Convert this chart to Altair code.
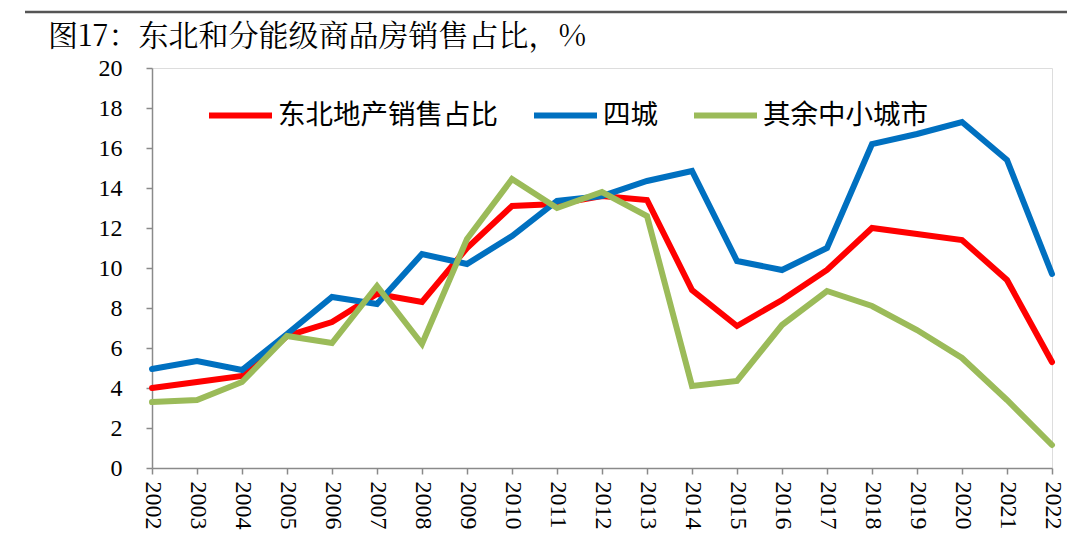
import altair as alt
import pandas as pd

years = [str(y) for y in range(2002, 2023)]
series_names = ["东北地产销售占比", "四城", "其余中小城市"]
colors = ["#FF0000", "#0070C0", "#9BBB59"]

northeast = [4.0, 4.3, 4.6, 6.6, 7.3, 8.7, 8.3, 11.0, 13.1, 13.2, 13.6, 13.4,
             8.9, 7.1, 8.4, 9.9, 12.0, 11.7, 11.4, 9.4, 5.3]
four_cities = [4.95, 5.35, 4.9, 6.7, 8.55, 8.2, 10.7, 10.2, 11.6, 13.35, 13.6, 14.35,
               14.85, 10.35, 9.9, 11.0, 16.2, 16.7, 17.3, 15.4, 9.7]
other_cities = [3.3, 3.4, 4.3, 6.6, 6.25, 9.1, 6.2, 11.45, 14.45, 13.0, 13.8, 12.6,
                4.1, 4.35, 7.15, 8.85, 8.1, 6.9, 5.5, 3.4, 1.15]
y_ticks = list(range(0, 21, 2))
title_text = ["图17：东北和分能级商品房销售占比，%"]

rows = []
for name, vals in zip(series_names, [northeast, four_cities, other_cities]):
    for yr, v in zip(years, vals):
        rows.append({"year": yr, "value": v, "series": name})
df = pd.DataFrame(rows)

serif = "Liberation Serif, 'Times New Roman', serif"
sans_cjk = "'Noto Sans CJK SC', sans-serif"
title_font = "'Noto Serif CJK SC', 'Liberation Serif', 'Noto Sans CJK SC', serif"

base = alt.Chart(df).encode(
    x=alt.X("year:O", sort=years,
            scale=alt.Scale(type="point", padding=0),
            axis=alt.Axis(title=None, labelAngle=90, labelFont=serif, labelFontSize=24,
                          labelColor="black", labelPadding=7, tickSize=6,
                          domainColor="#8a8a8a", tickColor="#8a8a8a",
                          domainWidth=1.5, tickWidth=1.5)),
    y=alt.Y("value:Q", scale=alt.Scale(domain=[0, 20], nice=False),
            axis=alt.Axis(title=None, values=y_ticks, grid=False, labelFont=serif,
                          labelFontSize=24, labelColor="black", labelPadding=24,
                          tickSize=6, domainColor="#8a8a8a", tickColor="#8a8a8a",
                          domainWidth=1.5, tickWidth=1.5)),
    color=alt.Color("series:N",
                    scale=alt.Scale(domain=series_names, range=colors),
                    legend=alt.Legend(title=None, orient="none", direction="horizontal",
                                      legendX=54, legendY=13, symbolType="stroke",
                                      symbolSize=3969, symbolStrokeWidth=6,
                                      labelFont=sans_cjk, labelFontSize=27.5,
                                      labelColor="black", labelOffset=3, labelLimit=400,
                                      columnPadding=24, padding=0)),
)

lines = [
    base.mark_line(strokeWidth=6, strokeCap="round").transform_filter(alt.datum.series == n)
    for n in series_names
]

deco = alt.Chart(pd.DataFrame({"k": [0]})).mark_rule(color="#555555", strokeWidth=2.5).encode(
    x=alt.value(-127), x2=alt.value(915), y=alt.value(-56)
)

title = alt.Chart(pd.DataFrame({"t": title_text})).mark_text(
    align="left", baseline="alphabetic", font=title_font, fontSize=30, color="black"
).encode(text="t:N", x=alt.value(-104), y=alt.value(-22))

chart = alt.layer(deco, title, *lines).properties(
    width=900,
    height=400,
    autosize=alt.AutoSizeParams(type="none"),
    padding={"left": 144, "top": 60, "right": 20, "bottom": 73},
).configure_view(stroke=None).configure(background="white")

chart.save("out.html", embed_options={"renderer": "svg", "actions": False})
